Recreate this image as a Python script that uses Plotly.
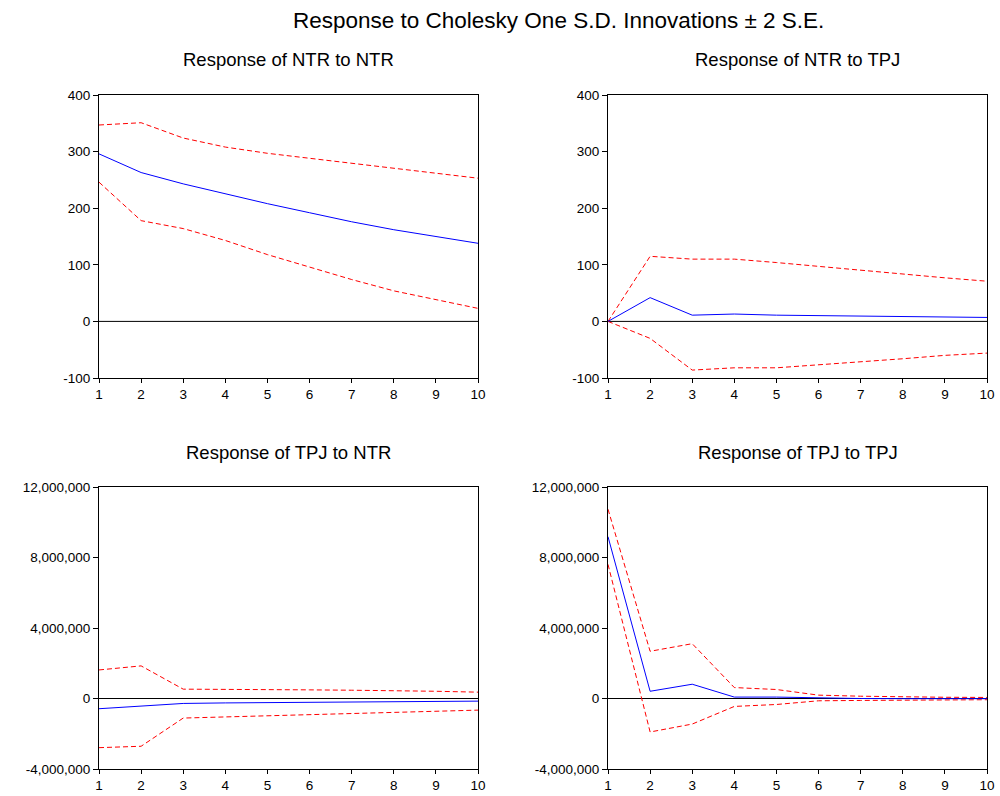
import plotly.graph_objects as go

periods = [1, 2, 3, 4, 5, 6, 7, 8, 9, 10]

# Response of NTR to NTR
ntr_ntr = [296, 263, 243, 225, 208, 192, 176, 162, 150, 138]
ntr_ntr_up = [347, 351, 324, 308, 297, 288, 279, 270, 262, 253]
ntr_ntr_lo = [246, 178, 164, 143, 118, 96, 74, 54, 38, 23]

# Response of NTR to TPJ
ntr_tpj = [0, 42, 11, 13, 11, 10, 9, 8.5, 8, 7]
ntr_tpj_up = [0, 115, 110, 110, 104, 97, 90, 83, 77, 71]
ntr_tpj_lo = [0, -30, -86, -82, -82, -77, -71, -66, -60, -56]

# Response of TPJ to NTR
tpj_ntr = [-580000, -430000, -280000, -250000, -230000, -210000, -190000, -185000, -170000, -150000]
tpj_ntr_up = [1620000, 1850000, 530000, 530000, 530000, 490000, 470000, 450000, 410000, 360000]
tpj_ntr_lo = [-2790000, -2710000, -1110000, -1040000, -980000, -900000, -850000, -790000, -720000, -660000]

# Response of TPJ to TPJ
tpj_tpj = [9180000, 410000, 810000, 80000, 80000, 20000, 0, -10000, -10000, -10000]
tpj_tpj_up = [10740000, 2680000, 3110000, 620000, 510000, 190000, 130000, 90000, 70000, 60000]
tpj_tpj_lo = [7610000, -1900000, -1450000, -450000, -340000, -130000, -110000, -90000, -80000, -70000]

titles = ["Response of NTR to NTR", "Response of NTR to TPJ",
          "Response of TPJ to NTR", "Response of TPJ to TPJ"]
panels = [
    (ntr_ntr, ntr_ntr_up, ntr_ntr_lo),
    (ntr_tpj, ntr_tpj_up, ntr_tpj_lo),
    (tpj_ntr, tpj_ntr_up, tpj_ntr_lo),
    (tpj_tpj, tpj_tpj_up, tpj_tpj_lo),
]

W, H = 1000, 796


def px_x(p):
    return p / W


def px_y(p):
    return 1 - p / H


xdoms = [[px_x(99), px_x(478)], [px_x(608), px_x(987)]]
ydoms = [[px_y(378), px_y(95)], [px_y(769), px_y(487)]]

fig = go.Figure()
font = "Liberation Sans, Arial, sans-serif"
layout = dict(
    width=W, height=H,
    margin=dict(l=0, r=0, t=0, b=0, pad=0),
    paper_bgcolor="white", plot_bgcolor="white",
    showlegend=False,
    font=dict(family=font, size=13, color="black"),
)
annotations = [dict(text="Response to Cholesky One S.D. Innovations ± 2 S.E.",
                    x=px_x(558), y=px_y(20), xref="paper", yref="paper",
                    showarrow=False, font=dict(size=22.5, family=font),
                    xanchor="center", yanchor="middle")]
shapes = []
for i, (mid, up, lo) in enumerate(panels):
    r, c = divmod(i, 2)
    n = i + 1
    xa = "x" if n == 1 else f"x{n}"
    ya = "y" if n == 1 else f"y{n}"
    for vals, color, dash in [(up, "#ff0000", "5px,3px"), (lo, "#ff0000", "5px,3px"), (mid, "#0000ff", "solid")]:
        fig.add_trace(go.Scatter(x=periods, y=vals, mode="lines",
                                 line=dict(color=color, width=1, dash=dash),
                                 xaxis=xa, yaxis=ya, hoverinfo="skip"))
    xkey = "xaxis" if n == 1 else f"xaxis{n}"
    ykey = "yaxis" if n == 1 else f"yaxis{n}"
    layout[xkey] = dict(domain=xdoms[c], anchor=ya, range=[1, 10], tickmode="array",
                        tickvals=periods, ticks="outside", ticklen=4, tickcolor="black",
                        showline=True, linecolor="black", linewidth=1, mirror=True,
                        showgrid=False, zeroline=False, tickfont=dict(size=13.5),
                        automargin=False, fixedrange=True)
    if r == 0:
        yd = dict(range=[-100, 400], tickvals=[-100, 0, 100, 200, 300, 400],
                  ticktext=["-100", "0", "100", "200", "300", "400"])
    else:
        yd = dict(range=[-4000000, 12000000], tickvals=[-4000000, 0, 4000000, 8000000, 12000000],
                  ticktext=["-4,000,000", "0", "4,000,000", "8,000,000", "12,000,000"])
    layout[ykey] = dict(domain=ydoms[r], anchor=xa, tickmode="array",
                        ticks="outside", ticklen=5, tickcolor="black",
                        showline=True, linecolor="black", linewidth=1, mirror=True,
                        showgrid=False, zeroline=False, tickfont=dict(size=13.5),
                        automargin=False, fixedrange=True, **yd)
    shapes.append(dict(type="line", xref=xa, yref=ya, x0=1, x1=10, y0=0, y1=0,
                       line=dict(color="black", width=1), layer="below"))
    ytitle = 60 if r == 0 else 452
    annotations.append(dict(text=titles[i], x=sum(xdoms[c]) / 2, y=px_y(ytitle),
                            xref="paper", yref="paper", showarrow=False,
                            font=dict(size=18.5, family=font), xanchor="center", yanchor="middle"))

layout["annotations"] = annotations
layout["shapes"] = shapes
fig.update_layout(**layout)
fig.write_html("out.html", config={"displayModeBar": False, "staticPlot": False},
               post_script="document.body.style.margin='0px';document.body.style.overflow='hidden';")
